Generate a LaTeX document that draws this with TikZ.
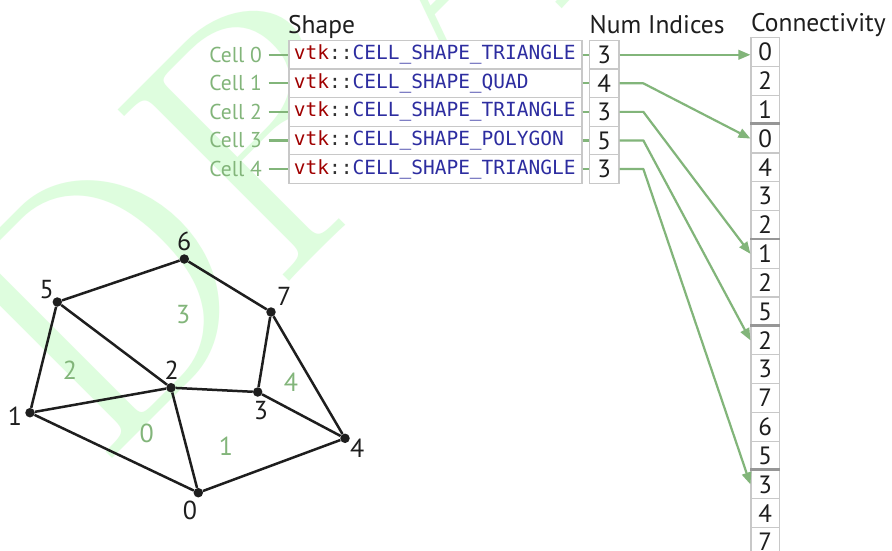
\documentclass[tikz,border=0pt]{standalone}
\usepackage{fontspec}
\newfontfamily\lblfont{PT Sans}
\newfontfamily\codefont{DejaVu Sans Mono}
\newfontfamily\wmfont{Latin Modern Roman}
\usetikzlibrary{arrows.meta}
\definecolor{cellgreen}{RGB}{130,181,122}
\definecolor{wmgreen}{RGB}{222,253,222}
\definecolor{boxgray}{RGB}{200,200,200}
\definecolor{sepgray}{RGB}{150,150,150}
\definecolor{vtkred}{RGB}{160,0,0}
\definecolor{codeblue}{RGB}{45,45,160}
\definecolor{coldark}{RGB}{50,50,50}
\definecolor{inkblack}{RGB}{30,30,30}
\newcommand\vtkcode[1]{{\color{vtkred}vtk}{\color{coldark}::}{\color{codeblue}CELL\_SHAPE\_#1}}
\tikzset{
  wmark/.style={rotate=45, anchor=base west, inner sep=0pt, text=wmgreen, font=\wmfont\fontsize{355}{400}\selectfont},
  header/.style={anchor=base west, inner sep=0pt, text=inkblack, font=\lblfont\fontsize{25.5}{30}\selectfont},
  shapecell/.style={draw=boxgray, fill=white, line width=1.2pt, anchor=west, minimum height=28.55pt, text width=283pt, inner xsep=5pt, inner ysep=0pt, align=left, font=\codefont\fontsize{19.5}{22}\selectfont},
  numcell/.style={draw=boxgray, fill=white, line width=1.2pt, minimum width=29.5pt, minimum height=28.55pt, inner sep=0pt, text=inkblack, font=\lblfont\fontsize{25}{30}\selectfont},
  concell/.style={draw=boxgray, fill=white, line width=1.2pt, minimum width=28.3pt, minimum height=28.82pt, inner sep=0pt, text=inkblack, font=\lblfont\fontsize{25}{30}\selectfont},
  celllabel/.style={anchor=east, inner sep=0pt, text=cellgreen, font=\lblfont\fontsize{21.5}{25}\selectfont},
  gline/.style={draw=cellgreen, line width=2.2pt},
  garrow/.style={draw=cellgreen, line width=2.2pt, line join=round, -{Triangle[length=12pt,width=9.5pt]}},
  sepline/.style={draw=sepgray, line width=2.4pt},
  dot/.style={circle, fill=inkblack, inner sep=0pt, minimum size=9.5pt},
  edge/.style={draw=inkblack, line width=2.5pt},
  vlabel/.style={inner sep=0pt, text=inkblack, font=\lblfont\fontsize{26}{30}\selectfont},
  clabel/.style={inner sep=0pt, text=cellgreen, font=\lblfont\fontsize{26}{30}\selectfont}
}
\begin{document}
\begin{tikzpicture}[x=1pt,y=-1pt]
\useasboundingbox (0,0) rectangle (892,550);
\clip (0,0) rectangle (892,550);
\fill[white] (0,0) rectangle (892,550);
% watermark
\node[wmark] (wm) at (99,472) {DRAFT};
% headers
\node[header] (hshape) at (288,33) {Shape};
\node[header] (hnum) at (589.5,33) {Num Indices};
\node[header] (hcon) at (751,31) {Connectivity};
% shape and num tables
\foreach \k/\nm/\ni in {0/TRIANGLE/3,1/QUAD/4,2/TRIANGLE/3,3/POLYGON/5,4/TRIANGLE/3} {
  \node[shapecell] (s\k) at (288.3, 54.78+28.55*\k) {\vtkcode{\nm}};
  \node[numcell] (n\k) at (604.3, 54.78+28.55*\k) {\ni};
  \node[celllabel] (l\k) at (262, 54.78+28.55*\k) {Cell \k};
  \draw[gline] ([xshift=6.5pt]l\k.east) -- (s\k.west);
  \draw[gline] (s\k.east) -- (n\k.west);
}
% connectivity
\foreach \k/\v in {0/0,1/2,2/1,3/0,4/4,5/3,6/2,7/1,8/2,9/5,10/2,11/3,12/7,13/6,14/5,15/3,16/4,17/7} {
  \node[concell] (c\k) at (765.2, 52.11+28.82*\k) {\v};
}
\foreach \k in {3,7,10,15} {
  \draw[sepline] (c\k.north west) -- (c\k.north east);
}
% arrows
\draw[garrow] (n0.east) -- (n0.east -| c0.west);
\draw[garrow] (n1.east) -- ++(23.7,0) -- (c3.west);
\draw[garrow] (n2.east) -- ++(23.7,0) -- (c7.west);
\draw[garrow] (n3.east) -- ++(23.7,0) -- (c10.west);
\draw[garrow] (n4.east) -- ++(23.7,0) -- (c15.west);
% mesh
\node[dot] (v0) at (198.3,492.7) {};
\node[dot] (v1) at (30,412.7) {};
\node[dot] (v2) at (171,387.7) {};
\node[dot] (v3) at (257.7,392) {};
\node[dot] (v4) at (345,438.3) {};
\node[dot] (v5) at (57.3,302) {};
\node[dot] (v6) at (184.3,259) {};
\node[dot] (v7) at (271,312) {};
\foreach \a/\b in {0/1,0/2,0/4,1/2,1/5,2/5,2/3,3/4,3/7,4/7,5/6,6/7} {
  \draw[edge] (v\a) -- (v\b);
}
\node[vlabel] (t0) at (190,510) {0};
\node[vlabel] (t1) at (15,416.7) {1};
\node[vlabel] (t2) at (171.7,370) {2};
\node[vlabel] (t3) at (261,411) {3};
\node[vlabel] (t4) at (357.3,448.3) {4};
\node[vlabel] (t5) at (46.7,290) {5};
\node[vlabel] (t6) at (184.3,241.7) {6};
\node[vlabel] (t7) at (284.3,296.7) {7};
\node[clabel] (k0) at (146.7,433.3) {0};
\node[clabel] (k1) at (226,446.7) {1};
\node[clabel] (k2) at (70,370) {2};
\node[clabel] (k3) at (183.3,315) {3};
\node[clabel] (k4) at (291,382.7) {4};
\end{tikzpicture}
\end{document}
